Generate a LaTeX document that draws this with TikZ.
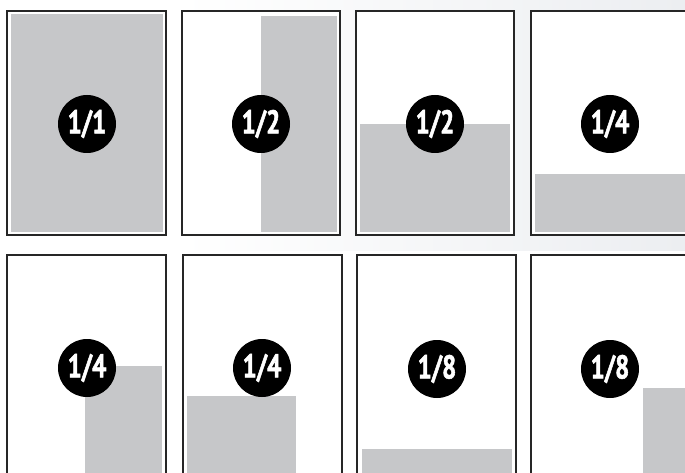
\documentclass[tikz,border=0pt]{standalone}
\usepackage{fontspec}
\setmainfont{PT Sans}
\newfontfamily\badgefont[FakeStretch=0.76, FakeBold=1.6]{PT Sans Bold}
\usepackage{xcolor}
\usepackage{tikz}
\usetikzlibrary{positioning}
\definecolor{adgray}{HTML}{C6C7C9}
\definecolor{adframe}{HTML}{262626}
\definecolor{adhaze}{HTML}{ECEEF1}

\begin{document}
\begin{tikzpicture}[
    x=1pt, y=-1pt,
    page/.style={draw=adframe, line width=1.5pt, fill=white},
    ad/.style={fill=adgray},
    badge/.style={
      circle, fill=black, text=white, inner sep=0pt,
      minimum size=58pt, font=\badgefont\fontsize{33}{33}\selectfont
    },
  ]

  \useasboundingbox (0,0) rectangle (685,473);
  \clip (0,0) rectangle (685,473);

  % faint photo behind the first row
  \shade[left color=white, right color=adhaze] (180,0) rectangle (685,250);

  % Pages, first row
  \draw[page] (7,11) rectangle (166,235);
  \fill[ad] (11,14) rectangle (163,232);
  \node[badge] (full) at (87,124) {1/1};

  \draw[page] (182,11) rectangle (340,235);
  \fill[ad] (261,16) rectangle (337,232);
  \node[badge] (halfv) at (261,124) {1/2};

  \draw[page] (356,11) rectangle (514,235);
  \fill[ad] (360,124) rectangle (510,232);
  \node[badge] (halfh) at (435,124) {1/2};

  \draw[page] (531,11) rectangle (700,235);
  \fill[ad] (535,174) rectangle (690,232);
  \node[badge] (quarterh) at (610,124) {1/4};

  % Pages, second row
  \draw[page] (7,255) rectangle (166,490);
  \fill[ad] (85,366) rectangle (162,480);
  \node[badge] (quarterc) at (87,368) {1/4};

  \draw[page] (183,255) rectangle (342,490);
  \fill[ad] (187,396) rectangle (296,480);
  \node[badge] (quarterb) at (262,368) {1/4};

  \draw[page] (357,255) rectangle (516,490);
  \fill[ad] (362,449) rectangle (512,480);
  \node[badge] (eighthh) at (437,369) {1/8};

  \draw[page] (531,255) rectangle (700,490);
  \fill[ad] (643,388) rectangle (690,480);
  \node[badge] (eighthv) at (610,369) {1/8};

\end{tikzpicture}
\end{document}
